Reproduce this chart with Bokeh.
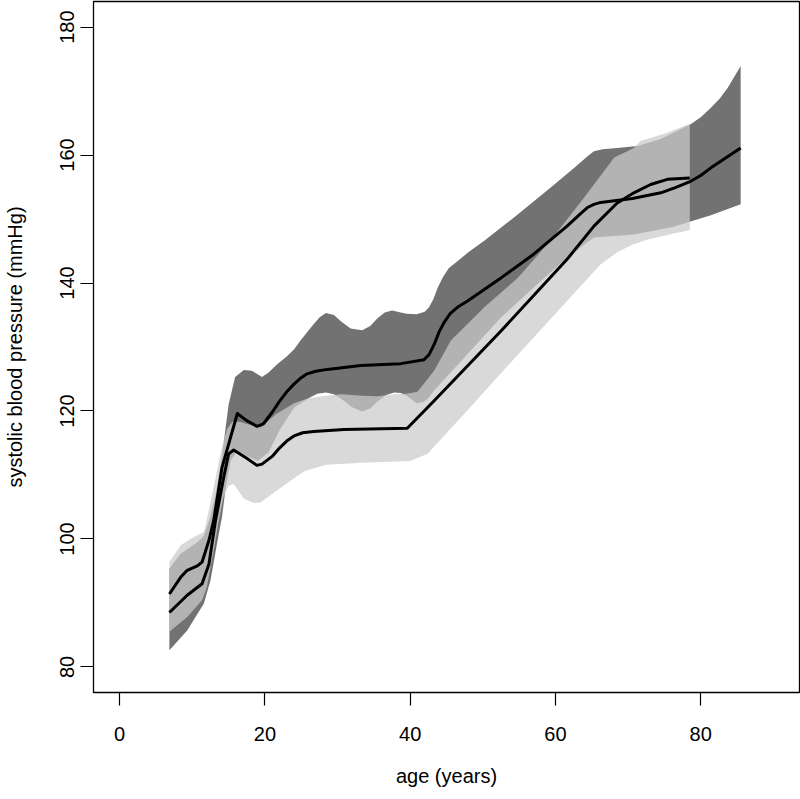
from bokeh.plotting import figure
from bokeh.models import Range1d, FixedTicker
from bokeh.embed import file_html
from bokeh.resources import INLINE

# ---- data ----
# male mean curve
male_age = [6.85, 8.4, 9.3, 10.7, 11.35, 12.3, 12.95, 14.1, 15.3, 16.2, 17.5, 18.9, 19.8, 21.0, 22.0, 23.0, 24.0,
            25.0, 25.8, 27.0, 28.6, 33.2, 38.7, 41.9, 42.6, 43.3, 44.0, 44.7, 45.5, 46.5, 47.9, 52.5, 57.0, 61.6,
            63.5, 64.4, 65.3, 66.2, 70.6, 74.5, 76.5, 78.6, 80.0, 81.4, 85.5]
male_bp = [91.4, 94.0, 95.1, 95.8, 96.4, 99.8, 102.9, 111.2, 116.0, 119.6, 118.5, 117.6, 118.0, 119.8, 121.5, 123.0, 124.2,
           125.2, 125.8, 126.2, 126.5, 127.1, 127.4, 128.0, 128.8, 130.4, 132.4, 133.9, 135.2, 136.2, 137.2, 140.8, 144.5, 148.9,
           150.9, 151.8, 152.3, 152.6, 153.2, 154.1, 154.9, 155.9, 156.8, 158.0, 161.1]
# male band upper / lower
mu_age = [6.85, 8.4, 10.7, 11.6, 12.5, 13.3, 14.1, 15.0, 15.9, 17.1, 18.2, 19.6, 20.5, 21.7, 23.0, 24.0, 24.9,
          26.5, 27.5, 28.4, 29.5, 30.5, 31.8, 33.4, 34.5, 35.5, 36.5, 37.5, 38.7, 39.5, 40.9, 42.0, 42.6, 43.2,
          43.8, 44.5, 45.3, 46.5, 48.0, 50.2, 54.8, 59.3, 62.6, 64.5, 65.3, 66.5, 68.5, 71.3, 74.5, 78.6, 80.0,
          81.4, 82.6, 83.7, 85.5]
mu_bp = [95.4, 97.7, 99.5, 100.5, 103.5, 107.5, 113.0, 121.0, 125.3, 126.4, 126.3, 125.3, 126.0, 127.3, 128.5, 129.6, 131.0,
         133.3, 134.6, 135.3, 135.0, 134.0, 132.9, 132.6, 133.3, 134.5, 135.4, 135.7, 135.4, 135.2, 135.1, 135.5, 136.2, 137.5,
         139.3, 140.9, 142.3, 143.4, 144.8, 146.6, 150.7, 154.9, 158.0, 159.9, 160.6, 160.9, 161.1, 161.4, 162.5, 164.8, 165.9,
         167.4, 168.8, 170.5, 173.9]
ml_age = [6.85, 9.3, 11.6, 12.5, 13.6, 14.1, 14.6, 15.3, 16.2, 17.5, 19.0, 20.5, 22.0, 24.0, 26.0, 27.2, 28.4,
          29.5, 30.5, 32.0, 33.4, 34.5, 35.5, 36.7, 37.8, 38.7, 39.5, 40.9, 41.8, 42.5, 43.3, 47.9, 52.5, 57.0,
          61.6, 65.3, 70.8, 76.3, 78.6, 81.4, 85.5]
ml_bp = [82.6, 85.7, 89.9, 93.5, 100.5, 103.5, 108.0, 112.3, 113.8, 113.0, 112.2, 113.5, 117.0, 120.5, 122.0, 122.7, 122.9,
         122.6, 121.9, 120.6, 119.9, 120.4, 121.5, 122.5, 122.9, 122.8, 122.4, 121.2, 121.4, 122.0, 123.2, 128.9, 134.6, 139.3,
         144.0, 147.1, 147.6, 148.8, 149.6, 150.6, 152.3]

# female mean curve
female_age = [6.85, 9.3, 11.35, 12.3, 13.2, 14.3, 15.0, 15.7, 17.5, 18.9, 19.6, 21.0, 22.0, 23.0, 24.0, 25.2, 26.7,
              30.9, 39.6, 43.3, 52.5, 61.6, 65.3, 68.5, 70.8, 73.1, 75.4, 78.5]
female_bp = [88.5, 91.2, 93.0, 96.1, 102.9, 109.5, 113.3, 113.9, 112.6, 111.5, 111.7, 112.9, 114.2, 115.3, 116.1, 116.6, 116.8,
             117.1, 117.3, 121.6, 132.5, 143.7, 148.9, 152.5, 154.1, 155.4, 156.2, 156.4]
# female band upper / lower
fu_age = [6.85, 8.4, 10.2, 11.6, 12.0, 13.2, 14.1, 14.8, 15.5, 16.5, 18.0, 19.4, 21.5, 24.0, 26.0, 28.4,
          30.5, 33.4, 35.5, 37.8, 39.5, 41.0, 43.3, 45.6, 50.2, 54.8, 59.3, 63.9, 68.1, 70.8, 71.7, 75.4, 78.5]
fu_bp = [96.4, 99.0, 100.3, 101.1, 103.0, 109.5, 114.5, 117.2, 118.3, 118.3, 117.8, 117.4, 119.5, 121.2, 122.0, 122.4,
         122.6, 122.4, 122.3, 122.6, 122.7, 123.0, 126.3, 131.0, 136.2, 140.8, 146.6, 153.3, 159.6, 161.1, 162.2,
         163.5, 164.9]
fl_age = [6.85, 9.3, 11.35, 12.0, 13.0, 13.6, 14.3, 15.0, 15.7, 17.1, 18.5, 19.4, 21.7, 24.0, 25.5, 28.4,
          33.4, 40.0, 42.4, 47.9, 52.5, 57.0, 61.6, 66.2, 68.5, 70.8, 73.1, 75.4, 78.5]
fl_bp = [85.5, 87.8, 90.4, 92.5, 98.5, 102.5, 106.5, 108.3, 108.6, 106.3, 105.6, 105.7, 107.6, 109.5, 110.6, 111.6,
         111.9, 112.2, 113.3, 120.1, 125.9, 131.5, 137.2, 142.9, 144.8, 146.1, 146.9, 147.5, 148.3]

x_ticks = [0, 20, 40, 60, 80]
y_ticks = [80, 100, 120, 140, 160, 180]

FONT = "Liberation Sans"

p = figure(width=800, height=799, output_backend="svg", toolbar_location=None,
           x_range=Range1d(-3.6, 93.6), y_range=Range1d(76, 184),
           min_border_left=93, min_border_right=1, min_border_top=1, min_border_bottom=107)
p.background_fill_color = "white"
p.border_fill_color = "white"
p.outline_line_color = "black"
p.outline_line_width = 1.3
p.grid.visible = False

# male band (opaque dark gray)
p.patch(mu_age + ml_age[::-1], mu_bp + ml_bp[::-1], fill_color="#727272", line_color=None)
# female band (translucent light gray on top)
p.patch(fu_age + fl_age[::-1], fu_bp + fl_bp[::-1], fill_color="#cbcbcb", fill_alpha=0.73, line_color=None)

p.line(male_age, male_bp, line_color="black", line_width=3, line_join="round")
p.line(female_age, female_bp, line_color="black", line_width=3, line_join="round")

for ax, ticks, bounds in ((p.xaxis[0], x_ticks, (0, 80)), (p.yaxis[0], y_ticks, (80, 180))):
    ax.ticker = FixedTicker(ticks=ticks)
    ax.bounds = bounds
    ax.axis_line_color = None
    ax.major_tick_out = 13
    ax.major_tick_in = 0
    ax.minor_tick_line_color = None
    ax.major_tick_line_color = "black"
    ax.major_tick_line_width = 1.2
    ax.major_label_text_font = FONT
    ax.major_label_text_font_size = "20px"
    ax.major_label_text_color = "black"
    ax.axis_label_text_font = FONT
    ax.axis_label_text_font_size = "20px"
    ax.axis_label_text_font_style = "normal"
    ax.axis_label_text_color = "black"

p.xaxis.axis_label = "age (years)"
p.xaxis.major_label_standoff = 21
p.xaxis.axis_label_standoff = 21
p.yaxis.axis_label = "systolic blood pressure (mmHg)"
p.yaxis.major_label_orientation = "vertical"
p.yaxis.major_label_standoff = 6
p.yaxis.axis_label_standoff = 32

open("out.html", "w").write(file_html(p, INLINE))
